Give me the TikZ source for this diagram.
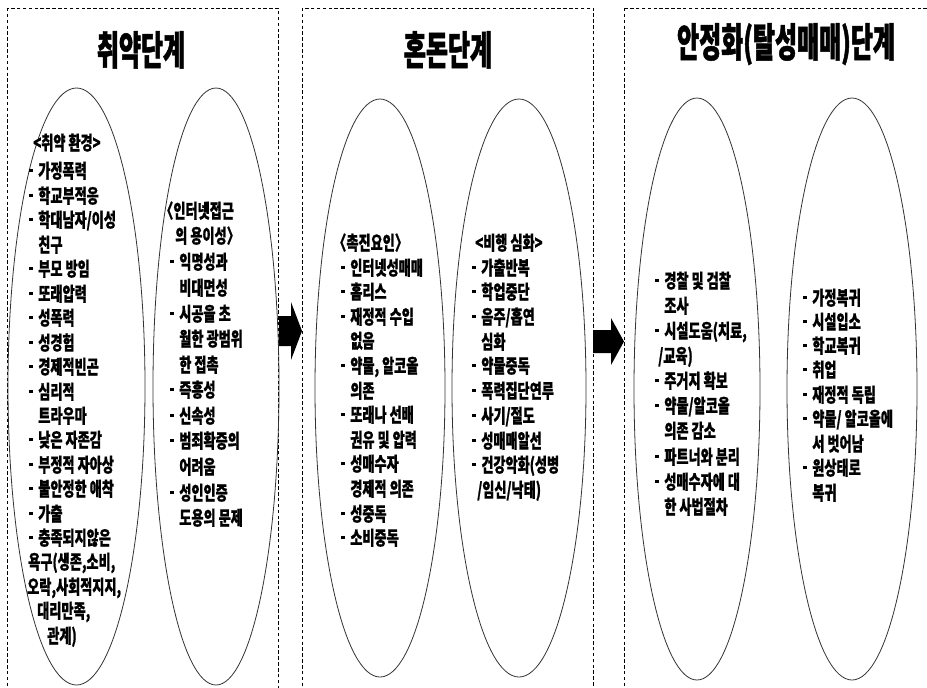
\documentclass[tikz,border=0pt]{standalone}
\usepackage{fontspec}
\newfontfamily\krfont[FakeStretch=0.68,BoldFeatures={FakeBold=0.8}]{Noto Sans CJK KR}
\newfontfamily\krtitlefont[FakeStretch=0.6,BoldFeatures={FakeBold=1.2}]{Noto Sans CJK KR}
\usetikzlibrary{shapes.geometric}
\newcommand\bu{\rule[0.3em]{2.6pt}{2.6pt}\hspace{4.2pt}}
\newcommand\ind{\hspace*{6.8pt}}
\tikzset{
  panel/.style={draw=black, line width=0.6pt, dash pattern=on 2.6pt off 1.8pt},
  oval/.style={draw=black!80, line width=0.6pt, ellipse, inner sep=0pt},
  txt/.style={anchor=west, inner sep=0pt, text height=0.84em, text depth=0.1em,
    font={\krfont\bfseries\fontsize{14.5pt}{17pt}\selectfont}},
  ttl/.style={anchor=center, inner sep=0pt, text height=0.84em, text depth=0.1em,
    font={\krtitlefont\bfseries\fontsize{30pt}{36pt}\selectfont}},
  blockarrow/.style={fill=black}
}
\begin{document}
\begin{tikzpicture}[x=0.75pt,y=-0.75pt]
\fill[white] (0,0) rectangle (927,687);
\useasboundingbox (0,0) rectangle (927,687);
\begin{scope}
\clip (0,0) rectangle (927,687);
% panels
\draw[panel] (7,8) rectangle (278,700);
\draw[panel] (302,8) rectangle (593,700);
\draw[panel] (624,8) rectangle (940,700);
% titles
\node[ttl] (t1) at (141,60) {취약단계};
\node[ttl] (t2) at (448,60) {혼돈단계};
\node[ttl] (t3) at (786,52) {안정화(탈성매매)단계};
% ellipses
\node[oval, minimum width=102.75pt, minimum height=447.75pt] (e1a) at (76.5,386.5) {};
\node[oval, minimum width=94.5pt, minimum height=447.75pt] (e1b) at (216,386.5) {};
\node[oval, minimum width=97.5pt, minimum height=433.5pt] (e2a) at (380,388) {};
\node[oval, minimum width=100.5pt, minimum height=433.5pt] (e2b) at (519,388) {};
\node[oval, minimum width=94.5pt, minimum height=436.5pt] (e3a) at (697,389) {};
\node[oval, minimum width=97.5pt, minimum height=436.5pt] (e3b) at (852,389) {};
% block arrows
\fill[blockarrow] (279,316) -- (291,316) -- (291,302) -- (302,331) -- (291,360) -- (291,346) -- (279,346) -- cycle;
\fill[blockarrow] (593,330) -- (611,330) -- (611,318) -- (624,341.5) -- (611,365) -- (611,353) -- (593,353) -- cycle;
\end{scope}
% panel 1, left
\node[txt] (a1) at (33,145) {<취약 환경>};
\node[txt] (a2) at (29,173) {\bu 가정폭력};
\node[txt] (a3) at (29,198) {\bu 학교부적응};
\node[txt] (a4) at (29,222) {\bu 학대남자/이성};
\node[txt] (a5) at (29,247) {\ind 친구};
\node[txt] (a6) at (29,271) {\bu 부모 방임};
\node[txt] (a7) at (29,296) {\bu 또래압력};
\node[txt] (a8) at (29,320) {\bu 성폭력};
\node[txt] (a9) at (29,345) {\bu 성경험};
\node[txt] (a10) at (29,369) {\bu 경제적빈곤};
\node[txt] (a11) at (29,394) {\bu 심리적};
\node[txt] (a12) at (29,418) {\ind 트라우마};
\node[txt] (a13) at (29,442) {\bu 낮은 자존감};
\node[txt] (a14) at (29,467) {\bu 부정적 자아상};
\node[txt] (a15) at (29,491) {\bu 불안정한 애착};
\node[txt] (a16) at (29,516) {\bu 가출};
\node[txt] (a17) at (29,540) {\bu 충족되지않은};
\node[txt] (a18) at (28,564) {욕구(생존,소비,};
\node[txt] (a19) at (27,589) {오락,사회적지지,};
\node[txt] (a20) at (37,613) {대리만족,};
\node[txt] (a21) at (47,638) {관계)};
% panel 1, right
\node[txt] (b1) at (160,213) {〈인터넷접근};
\node[txt] (b2) at (175,238) {의 용이성〉};
\node[txt] (b3) at (170,264) {\bu 익명성과};
\node[txt] (b4) at (170,290) {\ind 비대면성};
\node[txt] (b5) at (170,316) {\bu 시공을 초};
\node[txt] (b6) at (170,341) {\ind 월한 광범위};
\node[txt] (b7) at (170,367) {\ind 한 접촉};
\node[txt] (b8) at (170,392) {\bu 즉흥성};
\node[txt] (b9) at (170,418) {\bu 신속성};
\node[txt] (b10) at (170,443) {\bu 범죄확증의};
\node[txt] (b11) at (170,469) {\ind 어려움};
\node[txt] (b12) at (170,495) {\bu 성인인증};
\node[txt] (b13) at (170,520) {\ind 도용의 문제};
% panel 2, left
\node[txt] (c1) at (333,245) {〈촉진요인〉};
\node[txt] (c2) at (341,270) {\bu 인터넷성매매};
\node[txt] (c3) at (341,294) {\bu 홈리스};
\node[txt] (c4) at (341,319) {\bu 재정적 수입};
\node[txt] (c5) at (341,343) {\ind 없음};
\node[txt] (c6) at (341,368) {\bu 약물, 알코올};
\node[txt] (c7) at (341,393) {\ind 의존};
\node[txt] (c8) at (341,417) {\bu 또래나 선배};
\node[txt] (c9) at (341,442) {\ind 권유 및 압력};
\node[txt] (c10) at (341,466) {\bu 성매수자};
\node[txt] (c11) at (341,491) {\ind 경제적 의존};
\node[txt] (c12) at (341,516) {\bu 성중독};
\node[txt] (c13) at (341,540) {\bu 소비중독};
% panel 2, right
\node[txt] (d1) at (475,245) {<비행 심화>};
\node[txt] (d2) at (472,270) {\bu 가출반복};
\node[txt] (d3) at (472,294) {\bu 학업중단};
\node[txt] (d4) at (472,319) {\bu 음주/흡연};
\node[txt] (d5) at (472,344) {\ind 심화};
\node[txt] (d6) at (472,368) {\bu 약물중독};
\node[txt] (d7) at (472,393) {\bu 폭력집단연루};
\node[txt] (d8) at (472,418) {\bu 사기/절도};
\node[txt] (d9) at (472,443) {\bu 성매매알선};
\node[txt] (d10) at (472,467) {\bu 건강악화(성병};
\node[txt] (d11) at (477,492) {/임신/낙태)};
% panel 3, left
\node[txt] (f1) at (655,283) {\bu 경찰 및 검찰};
\node[txt] (f2) at (655,308) {\ind 조사};
\node[txt] (f3) at (655,333) {\bu 시설도움(치료,};
\node[txt] (f4) at (658,358) {/교육)};
\node[txt] (f5) at (655,383) {\bu 주거지 확보};
\node[txt] (f6) at (655,408) {\bu 약물/알코올};
\node[txt] (f7) at (655,433) {\ind 의존 감소};
\node[txt] (f8) at (655,459) {\bu 파트너와 분리};
\node[txt] (f9) at (655,484) {\bu 성매수자에 대};
\node[txt] (f10) at (655,509) {\ind 한 사법절차};
% panel 3, right
\node[txt] (g1) at (803,300) {\bu 가정복귀};
\node[txt] (g2) at (803,324) {\bu 시설입소};
\node[txt] (g3) at (803,348) {\bu 학교복귀};
\node[txt] (g4) at (803,372) {\bu 취업};
\node[txt] (g5) at (803,397) {\bu 재정적 독립};
\node[txt] (g6) at (803,421) {\bu 약물/ 알코올에};
\node[txt] (g7) at (803,446) {\ind 서 벗어남};
\node[txt] (g8) at (803,470) {\bu 원상태로};
\node[txt] (g9) at (803,495) {\ind 복귀};
\end{tikzpicture}
\end{document}
